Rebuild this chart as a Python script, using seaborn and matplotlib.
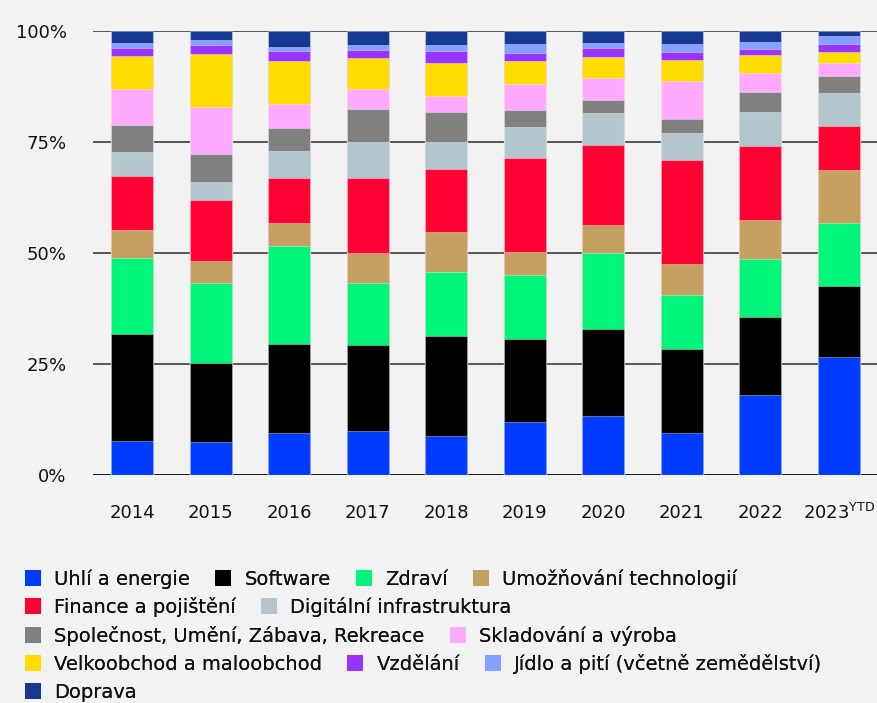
import numpy as np
import pandas as pd
import matplotlib
matplotlib.use("Agg")
import matplotlib.pyplot as plt
from matplotlib.patches import Patch
import seaborn as sns

years = ["2014", "2015", "2016", "2017", "2018", "2019", "2020", "2021", "2022", "2023"]
year_labels = ["2014", "2015", "2016", "2017", "2018", "2019", "2020", "2021", "2022",
               "2023$^{\\mathrm{YTD}}$"]

series_names = [
    "Uhlí a energie", "Software", "Zdraví", "Umožňování technologií",
    "Finance a pojištění", "Digitální infrastruktura",
    "Společnost, Umění, Zábava, Rekreace", "Skladování a výroba",
    "Velkoobchod a maloobchod", "Vzdělání", "Jídlo a pití (včetně zemědělství)",
    "Doprava",
]

uhli = [7.7, 7.4, 9.5, 10.0, 8.7, 11.9, 13.3, 9.5, 18.0, 26.6]
software = [24.0, 17.8, 20.0, 19.3, 22.5, 18.7, 19.6, 18.8, 17.6, 15.9]
zdravi = [17.1, 18.1, 22.1, 14.0, 14.6, 14.4, 17.0, 12.2, 13.0, 14.3]
umoznovani = [6.4, 5.0, 5.2, 6.7, 8.9, 5.3, 6.5, 7.1, 8.8, 11.9]
finance = [12.1, 13.6, 10.2, 17.0, 14.3, 21.2, 18.0, 23.3, 16.8, 9.9]
digitalni = [5.4, 4.2, 5.9, 8.1, 6.1, 6.8, 7.1, 6.2, 7.6, 7.4]
spolecnost = [6.1, 6.1, 5.3, 7.4, 6.7, 4.0, 3.0, 3.0, 4.5, 3.9]
skladovani = [8.1, 10.7, 5.4, 4.4, 3.5, 5.7, 5.0, 8.6, 4.2, 3.0]
velkoobchod = [7.5, 12.0, 9.6, 7.0, 7.4, 5.3, 4.6, 4.7, 4.0, 2.4]
vzdelani = [1.8, 1.9, 2.4, 1.9, 2.9, 1.8, 2.1, 1.9, 1.5, 1.8]
jidlo = [1.0, 1.1, 0.8, 1.1, 1.2, 2.0, 1.2, 1.8, 1.6, 1.8]
doprava = [2.8, 2.1, 3.6, 3.1, 3.2, 2.9, 2.6, 2.9, 2.4, 1.1]

colors = ["#003BFF", "#000000", "#00F57A", "#C4A160", "#FF0032", "#B3C6CD",
          "#808080", "#FFAAFF", "#FFDD00", "#9933FF", "#85A0FF", "#153893"]

values = [uhli, software, zdravi, umoznovani, finance, digitalni, spolecnost,
          skladovani, velkoobchod, vzdelani, jidlo, doprava]

df = pd.DataFrame({name: vals for name, vals in zip(series_names, values)}, index=years)
cum = df.cumsum(axis=1)

sns.set_theme(style="white")
plt.rcParams["font.family"] = ["DejaVu Sans"]
plt.rcParams["mathtext.fontset"] = "dejavusans"

BG = "#F2F2F2"
fig = plt.figure(figsize=(8.77, 7.03), dpi=100, facecolor=BG)
ax = fig.add_axes([93 / 877, (703 - 475) / 703, 785 / 877, 444 / 703])
ax.set_facecolor(BG)

for name, color in reversed(list(zip(series_names, colors))):
    sns.barplot(x=years, y=cum[name].values, color=color, width=0.535,
                saturation=1, ax=ax, edgecolor=(1, 1, 1, 0.35), linewidth=0.8,
                zorder=3)

ax.set_ylim(0, 100)
ax.set_xlim(-0.5, 9.5)
ax.set_yticks([0, 25, 50, 75, 100])
ax.set_yticklabels(["0%", "25%", "50%", "75%", "100%"])
ax.set_xticks(range(len(years)))
ax.set_xticklabels(year_labels[:-1] + [""])
ax.set_xlabel("")
ax.set_ylabel("")
ax.tick_params(axis="both", length=0, labelsize=13, colors="#111111")
ax.tick_params(axis="y", pad=19)
ax.tick_params(axis="x", pad=21)
# last label with superscript, aligned on the common baseline
ax.annotate(year_labels[-1], xy=(9, 0), xycoords=("data", "axes fraction"),
            xytext=(0, -44 * 0.72), textcoords="offset points",
            ha="center", va="baseline", fontsize=13, color="#111111")
for s in ax.spines.values():
    s.set_visible(False)
ax.set_axisbelow(True)
ax.yaxis.grid(True, color="#3c3c3c", linewidth=1.2)
ax.axhline(0, color="#111111", linewidth=1.3, zorder=2)

rows = [[0, 1, 2, 3], [4, 5], [6, 7], [8, 9, 10], [11]]
row_y = [579, 607, 635.5, 664, 692]
for row, y in zip(rows, row_y):
    handles = [Patch(facecolor=colors[i], edgecolor="none") for i in row]
    labels = [series_names[i] for i in row]
    leg = fig.legend(handles, labels, loc="center left",
                     bbox_to_anchor=(25 / 877, 1 - y / 703), ncol=len(row),
                     frameon=False, fontsize=14, borderpad=0, borderaxespad=0,
                     handlelength=0.82, handleheight=0.86, handletextpad=0.68,
                     columnspacing=1.3)
    for t in leg.get_texts():
        t.set_color("#111111")
    fig.add_artist(leg)

fig.savefig("out.png", dpi=100, facecolor=BG)
